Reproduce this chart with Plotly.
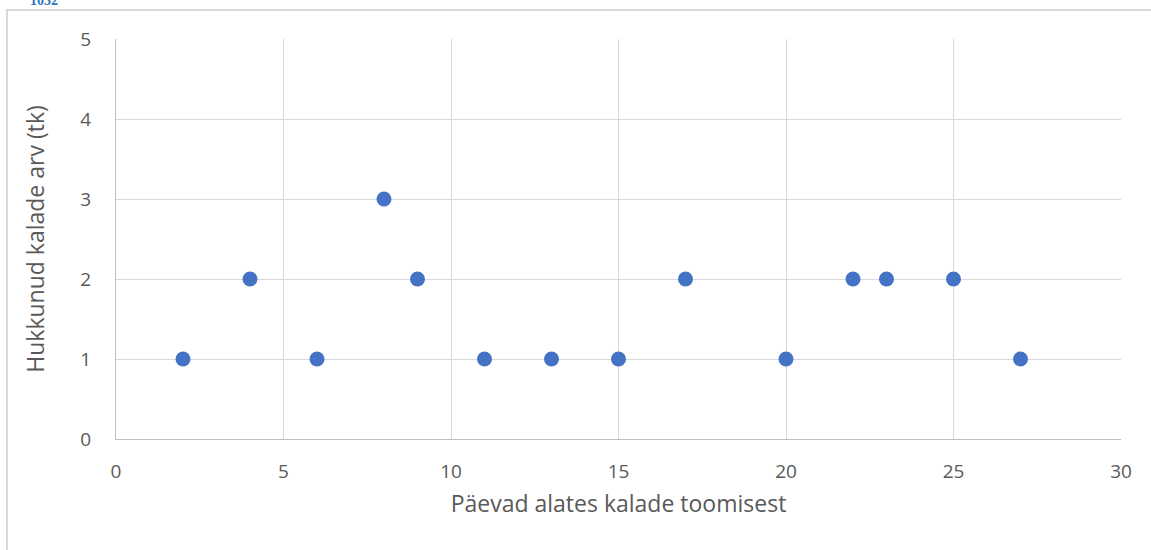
import plotly.graph_objects as go

days = [2, 4, 6, 8, 9, 11, 13, 15, 17, 20, 22, 23, 25, 27]
dead_fish = [1, 2, 1, 3, 2, 1, 1, 1, 2, 1, 2, 2, 2, 1]
x_ticks = [0, 5, 10, 15, 20, 25, 30]
y_ticks = [0, 1, 2, 3, 4, 5]

fig = go.Figure()
fig.add_trace(go.Scatter(
    x=days, y=dead_fish, mode="markers",
    marker=dict(color="#4472C4", size=15, line=dict(width=0)),
    showlegend=False,
))

font_family = "Open Sans, Noto Sans, sans-serif"
fig.update_layout(
    width=1151, height=550,
    margin=dict(l=116, r=30, t=39, b=111),
    paper_bgcolor="white", plot_bgcolor="white",
    font=dict(family=font_family, color="#595959", size=19),
    xaxis=dict(
        range=[0, 30], tickvals=x_ticks, showgrid=True, gridcolor="#d9d9d9", gridwidth=1,
        zeroline=False, showline=True, linecolor="#bfbfbf", linewidth=1,
        ticks="", ticklabelstandoff=15,
        title=dict(text="Päevad alates kalade toomisest", font=dict(size=23, color="#595959"), standoff=13),
    ),
    yaxis=dict(
        range=[0, 5], tickvals=y_ticks, showgrid=True, gridcolor="#d9d9d9", gridwidth=1,
        zeroline=False, showline=True, linecolor="#bfbfbf", linewidth=1,
        ticks="", ticklabelstandoff=20,
        title=dict(text="Hukkunud kalade arv (tk)", font=dict(size=23, color="#595959"), standoff=29),
    ),
    shapes=[
        dict(type="rect", xref="paper", yref="paper",
             x0=-0.1085, x1=1.1, y0=-0.35, y1=1.0725,
             line=dict(color="#d9d9d9", width=2), fillcolor="rgba(0,0,0,0)", layer="below"),
    ],
    annotations=[
        dict(text="<b>1032</b>", xref="paper", yref="paper", x=-0.0876, y=1.0975,
             xanchor="left", yanchor="middle", showarrow=False,
             font=dict(family="Liberation Serif, serif", size=14, color="#2E75B6")),
    ],
)

fig.write_html("out.html", config={"displayModeBar": False},
               post_script="document.body.style.margin='0';")
